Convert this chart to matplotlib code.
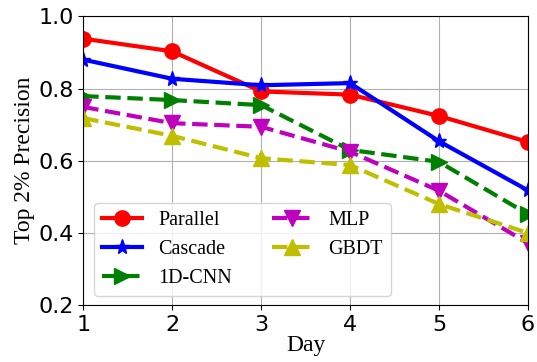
import matplotlib
matplotlib.use('Agg')
import matplotlib.pyplot as plt

# Дні та значення точності
days = [1, 2, 3, 4, 5, 6]
parallel = [0.938, 0.903, 0.792, 0.783, 0.724, 0.652]
cascade = [0.880, 0.827, 0.809, 0.815, 0.654, 0.518]
cnn = [0.779, 0.768, 0.754, 0.630, 0.597, 0.452]
mlp = [0.749, 0.704, 0.694, 0.625, 0.517, 0.372]
gbdt = [0.718, 0.669, 0.607, 0.588, 0.480, 0.400]

fig, ax = plt.subplots(figsize=(5.37, 3.62), dpi=100)

ax.plot(days, parallel, 'r-', marker='o', lw=3, ms=11, label='Parallel')
ax.plot(days, cascade, 'b-', marker='*', lw=3, ms=11, label='Cascade')
ax.plot(days, cnn, 'g--', marker='>', lw=3, ms=11, label='1D-CNN')
ax.plot(days, mlp, 'm--', marker='v', lw=3, ms=11, label='MLP')
ax.plot(days, gbdt, 'y--', marker='^', lw=3, ms=11, label='GBDT')

ax.set_xlim(1, 6)
ax.set_ylim(0.2, 1.0)
ax.set_xticks(days)
ax.set_yticks([0.2, 0.4, 0.6, 0.8, 1.0])
ax.tick_params(labelsize=16)
ax.grid(True)
ax.set_xlabel('Day', family='Liberation Serif', fontsize=17, labelpad=0)
ax.set_ylabel('Top 2% Precision', family='Liberation Serif', fontsize=17, labelpad=2)
ax.legend(loc='lower left', ncol=2, prop={'family': 'Liberation Serif', 'size': 14.5},
          bbox_to_anchor=(0.01, 0.01), borderaxespad=0.3)

fig.subplots_adjust(left=0.155, right=0.983, top=0.955, bottom=0.157)
fig.savefig('out.png')
